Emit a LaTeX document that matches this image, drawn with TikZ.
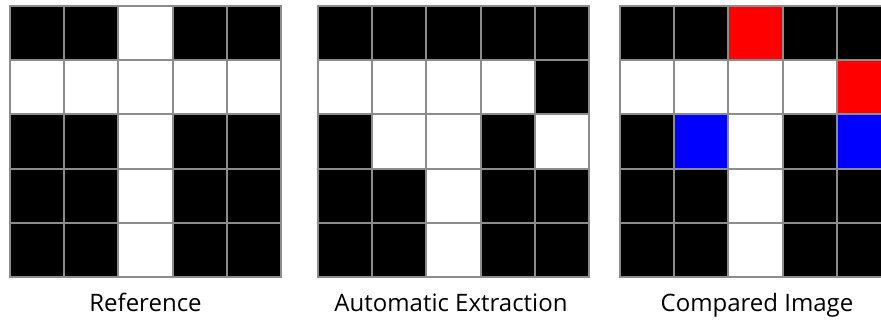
\documentclass[tikz,border=0pt]{standalone}
\usepackage{fontspec}
\setsansfont{Open Sans}
\usetikzlibrary{positioning}
\tikzset{
  cell/.style={
    rectangle, draw=black!45, line width=1.5pt,
    minimum size=40.65pt, inner sep=0pt, outer sep=0pt,
    anchor=north west
  },
  caption/.style={
    font=\sffamily\fontsize{18}{22}\selectfont, anchor=base,
    text=black
  },
}
% one 5x5 grid: name, left edge, 25 fill colours row by row
\newcommand{\pixgrid}[3]{%
  \foreach \fillcol [count=\k from 0] in {#3} {
    \pgfmathtruncatemacro{\rr}{div(\k,5)}
    \pgfmathtruncatemacro{\cc}{mod(\k,5)}
    \node[cell, fill=\fillcol] (#1-\rr-\cc) at ({#2+\cc*54.2},{6+\rr*54.2}) {};
  }%
}
\begin{document}
\begin{tikzpicture}[x=0.75pt, y=-0.75pt]
  \useasboundingbox (0,0) rectangle (881,323);
  \clip (0,0) rectangle (881,323);
  \pixgrid{ref}{10}{black,black,white,black,black,
                    white,white,white,white,white,
                    black,black,white,black,black,
                    black,black,white,black,black,
                    black,black,white,black,black}
  \pixgrid{auto}{318}{black,black,black,black,black,
                      white,white,white,white,black,
                      black,white,white,black,white,
                      black,black,white,black,black,
                      black,black,white,black,black}
  \pixgrid{cmp}{620}{black,black,red,black,black,
                     white,white,white,white,red,
                     black,blue,white,black,blue,
                     black,black,white,black,black,
                     black,black,white,black,black}
  \node[caption] (ref-label) at (145.5,312) {Reference};
  \node[caption] (auto-label) at (451,312) {Automatic Extraction};
  \node[caption] (cmp-label) at (757,312) {Compared Image};
\end{tikzpicture}
\end{document}
